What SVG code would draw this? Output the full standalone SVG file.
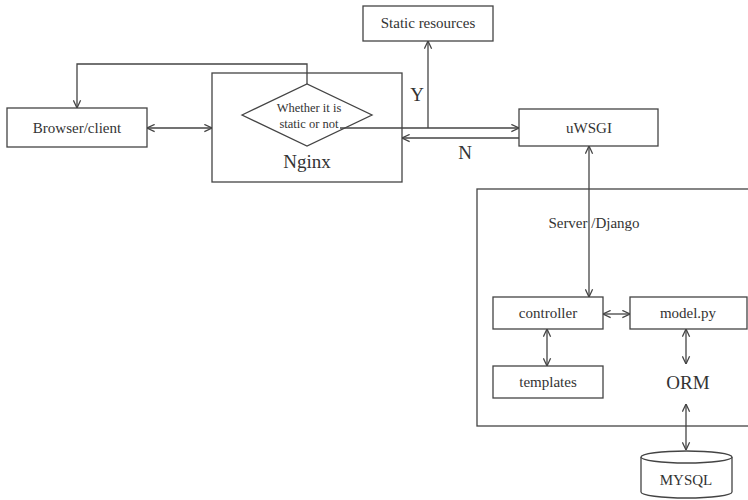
<svg xmlns="http://www.w3.org/2000/svg" width="748" height="500" viewBox="0 0 748 500">
<defs>
<marker id="arr" viewBox="0 0 10 10" refX="9.5" refY="5" markerWidth="9" markerHeight="9" markerUnits="userSpaceOnUse" orient="auto-start-reverse">
<path d="M1,1 L9.5,5 L1,9" fill="none" stroke="#444" stroke-width="1.4"/>
</marker>
<style>
.box{fill:#fff;stroke:#444;stroke-width:1.3}
.ln{fill:none;stroke:#444;stroke-width:1.3}
.t{font-family:"Liberation Serif","Times New Roman",serif;fill:#333;text-anchor:middle}
.s15{font-size:15px}
.s19{font-size:19px}
.s12{font-size:12.5px}
</style>
</defs>
<rect width="748" height="500" fill="#fff"/>

<g id="server">
<rect class="box" x="477" y="189" width="290" height="237"/>
<text class="t s15" x="594" y="228">Server /Django</text>
</g>

<g id="browser">
<rect class="box" x="7" y="108" width="140" height="39"/>
<text class="t s15" x="77" y="133">Browser/client</text>
</g>

<g id="nginx">
<rect class="box" x="212" y="73" width="190" height="109"/>
<text class="t s19" x="307" y="168">Nginx</text>
</g>

<g id="decision">
<polygon class="box" points="242,115 307,84 372,115 307,146"/>
<text class="t s12" x="309" y="112">Whether it is</text>
<text class="t s12" x="309" y="128">static or not</text>
</g>

<g id="static">
<rect class="box" x="363" y="6" width="130" height="35"/>
<text class="t s15" x="428" y="28">Static resources</text>
</g>

<g id="uwsgi">
<rect class="box" x="519" y="109" width="139" height="37"/>
<text class="t s15" x="589" y="133">uWSGI</text>
</g>

<g id="controller">
<rect class="box" x="493" y="297" width="110" height="32"/>
<text class="t s15" x="548" y="318">controller</text>
</g>

<g id="model">
<rect class="box" x="630" y="297" width="117" height="32"/>
<text class="t s15" x="688" y="318">model.py</text>
</g>

<g id="templates">
<rect class="box" x="493" y="366" width="110" height="32"/>
<text class="t s15" x="548" y="387">templates</text>
</g>

<g id="orm">
<text class="t s19" x="688" y="389">ORM</text>
</g>

<g id="mysql">
<path class="box" d="M641,457 L641,492 A45.5,6 0 0 0 732,492 L732,457"/>
<ellipse class="box" cx="686.5" cy="457" rx="45.5" ry="6"/>
<text class="t s15" x="686" y="485">MYSQL</text>
</g>

<g id="connectors">
<path class="ln" d="M307,84 L307,64 L77,64 L77,108" marker-end="url(#arr)"/>
<line class="ln" x1="147" y1="128" x2="212" y2="128" marker-start="url(#arr)" marker-end="url(#arr)"/>
<line class="ln" x1="340" y1="128" x2="519" y2="128" marker-end="url(#arr)"/>
<line class="ln" x1="428" y1="128" x2="428" y2="41" marker-end="url(#arr)"/>
<line class="ln" x1="519" y1="138" x2="402" y2="138" marker-end="url(#arr)"/>
<line class="ln" x1="589" y1="146" x2="589" y2="297" marker-start="url(#arr)" marker-end="url(#arr)"/>
<line class="ln" x1="603" y1="314" x2="630" y2="314" marker-start="url(#arr)" marker-end="url(#arr)"/>
<line class="ln" x1="547" y1="329" x2="547" y2="366" marker-start="url(#arr)" marker-end="url(#arr)"/>
<line class="ln" x1="686" y1="329" x2="686" y2="364" marker-start="url(#arr)" marker-end="url(#arr)"/>
<line class="ln" x1="686" y1="404" x2="686" y2="450" marker-start="url(#arr)" marker-end="url(#arr)"/>
<text class="t s19" x="417" y="101">Y</text>
<text class="t s19" x="465" y="159">N</text>
</g>
</svg>
